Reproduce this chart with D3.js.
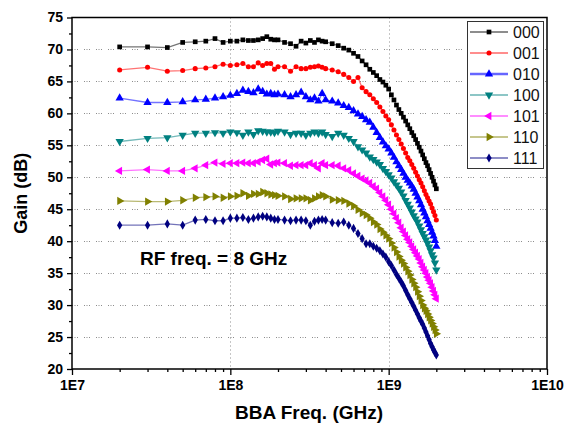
<!DOCTYPE html>
<html lang="en">
<head>
<meta charset="UTF-8">
<title>Gain vs BBA freq</title>
<script src="https://cdn.jsdelivr.net/npm/d3@7/dist/d3.min.js"></script>
<style>
  body { margin: 0; background: #fff; }
  svg { font-family: "Liberation Sans", Arial, sans-serif; }
</style>
</head>
<body>
<div id="chart"></div>
<script>

var w = 575;
var h = 430;

// sample frequencies (MHz)
var freqs = [20, 30, 40, 50, 60, 70, 80, 90, 100,
    110, 120, 130, 140, 150, 160, 170, 180, 190, 200,
    220, 240, 260, 280, 300, 320, 340, 360, 380, 400,
    440, 480, 520, 560, 600, 640, 680, 720, 760, 800,
    840, 880, 920, 960, 1000, 1040, 1080, 1120, 1160, 1200,
    1240, 1280, 1320, 1360, 1400, 1440, 1480, 1520, 1560, 1600,
    1640, 1680, 1720, 1760, 1800, 1840, 1880, 1920, 1960, 2000];

var names = ["000", "001", "010", "100", "101", "110", "111"];
var colors = ["#000000", "#ff0000", "#0000ff", "#008080", "#ff00ff", "#808000", "#000080"];

// gain (dB) of each state
var g000 = [70.4, 70.4, 70.3, 71.1, 71.2, 71.3, 71.7, 71.1, 71.3,
    71.3, 71.5, 71.4, 71.4, 71.5, 71.7, 72.0, 71.6, 71.5, 71.5,
    71.1, 70.9, 70.5, 71.3, 71.0, 71.4, 71.1, 71.5, 71.3, 71.2,
    70.9, 70.6, 70.2, 69.9, 69.4, 68.9, 68.2, 67.6, 66.9, 66.4,
    65.9, 65.3, 64.9, 64.4, 63.8, 62.9, 62.1, 61.3, 60.6, 60.0,
    59.4, 58.8, 58.2, 57.6, 57.0, 56.5, 55.9, 55.3, 54.7, 54.1,
    53.5, 52.9, 52.3, 51.8, 51.2, 50.6, 50.0, 49.4, 48.8, 48.2];

var g001 = [66.8, 67.2, 66.6, 66.7, 67.0, 67.1, 67.3, 67.7, 67.5,
    67.6, 67.8, 67.3, 67.3, 67.9, 67.5, 67.8, 67.8, 66.9, 67.3,
    67.3, 66.6, 67.3, 67.0, 67.0, 67.2, 67.3, 67.4, 67.2, 67.0,
    66.8, 66.5, 66.1, 65.6, 65.0, 65.6, 64.0, 63.4, 62.9, 62.3,
    61.7, 61.0, 60.3, 59.6, 59.0, 58.2, 57.4, 56.6, 55.9, 55.2,
    54.5, 53.8, 53.1, 52.6, 52.0, 51.4, 50.8, 50.2, 49.6, 49.1,
    48.5, 47.9, 47.3, 46.8, 46.3, 45.8, 45.2, 44.6, 44.0, 43.3];

var g010 = [62.4, 61.7, 61.7, 61.8, 62.1, 62.2, 62.4, 62.6, 62.8,
    63.1, 63.6, 63.4, 63.2, 63.8, 63.4, 63.0, 63.1, 62.9, 63.0,
    62.9, 62.6, 62.9, 63.3, 62.6, 62.1, 62.4, 61.9, 63.1, 62.1,
    61.9, 61.6, 61.2, 60.9, 60.4, 59.9, 59.5, 59.0, 58.6, 57.8,
    57.0, 56.2, 55.5, 54.9, 54.4, 53.8, 53.1, 52.4, 51.8, 51.2,
    50.6, 50.0, 49.5, 49.1, 48.6, 48.1, 47.5, 46.9, 46.3, 45.7,
    45.0, 44.4, 43.8, 43.2, 42.6, 42.0, 41.4, 40.8, 40.1, 39.2];

var g100 = [55.6, 56.1, 56.2, 56.6, 56.9, 56.9, 57.0, 56.9, 57.1,
    57.0, 56.6, 57.1, 56.7, 57.3, 57.2, 57.1, 57.1, 57.0, 57.2,
    57.1, 56.7, 56.9, 56.9, 56.6, 56.9, 57.1, 56.9, 57.1, 56.7,
    56.4, 56.9, 56.6, 56.1, 55.6, 54.8, 54.3, 53.8, 53.2, 52.8,
    52.4, 52.0, 51.4, 50.9, 50.4, 49.9, 49.3, 48.8, 48.3, 47.7,
    47.1, 46.4, 45.8, 45.2, 44.6, 44.0, 43.5, 43.0, 42.4, 41.8,
    41.2, 40.7, 40.2, 39.7, 39.1, 38.5, 37.9, 37.4, 36.6, 35.5];

var g101 = [51.0, 51.2, 51.0, 51.0, 51.4, 51.9, 52.3, 52.1, 52.2,
    52.2, 52.3, 52.2, 52.2, 52.4, 52.7, 52.9, 52.0, 52.2, 52.3,
    52.2, 51.8, 51.9, 51.9, 51.9, 52.2, 51.9, 51.4, 52.2, 51.9,
    51.9, 51.8, 51.4, 51.1, 50.6, 50.2, 49.8, 49.5, 49.1, 48.6,
    48.2, 47.6, 47.0, 46.4, 45.7, 45.0, 44.3, 43.6, 42.9, 42.1,
    41.5, 40.9, 40.3, 39.8, 39.2, 38.7, 38.2, 37.7, 37.2, 36.6,
    36.0, 35.5, 35.0, 34.4, 33.9, 33.4, 32.8, 32.2, 31.6, 31.0];

var g110 = [46.3, 46.2, 46.2, 46.4, 46.8, 46.9, 47.0, 46.8, 47.0,
    47.1, 47.5, 47.1, 47.4, 47.4, 47.7, 47.5, 47.3, 47.2, 47.1,
    47.0, 46.6, 46.7, 46.7, 46.7, 46.4, 46.7, 47.0, 47.2, 47.0,
    46.5, 46.4, 46.3, 45.9, 45.5, 44.9, 44.4, 44.1, 43.6, 43.0,
    42.6, 41.9, 41.4, 40.9, 40.4, 39.7, 39.0, 38.3, 37.6, 37.0,
    36.5, 35.9, 35.3, 34.7, 34.0, 33.4, 32.8, 32.1, 31.4, 30.7,
    30.0, 29.5, 29.1, 28.6, 28.1, 27.6, 27.1, 26.6, 26.1, 25.5];

var g111 = [42.5, 42.5, 42.7, 42.5, 43.3, 43.4, 43.2, 43.2, 43.6,
    43.6, 43.7, 43.4, 43.6, 43.8, 43.9, 43.8, 43.6, 43.4, 43.4,
    43.3, 43.2, 43.3, 43.3, 43.2, 42.5, 43.1, 43.3, 43.4, 43.3,
    42.9, 42.8, 43.0, 42.5, 42.0, 41.2, 40.4, 39.6, 39.6, 39.2,
    38.9, 38.5, 38.0, 37.5, 36.8, 36.2, 35.5, 34.8, 34.2, 33.6,
    33.0, 32.3, 31.6, 31.0, 30.4, 29.8, 29.2, 28.6, 28.0, 27.5,
    27.0, 26.4, 25.8, 25.2, 24.6, 24.0, 23.5, 23.0, 22.6, 22.2];

var yTicks = [20, 25, 30, 35, 40, 45, 50, 55, 60, 65, 70, 75];
var xTicks = [1e7, 1e8, 1e9, 1e10];
var xTickLabels = ["1E7", "1E8", "1E9", "1E10"];

var series = [g000, g001, g010, g100, g101, g110, g111];

var svg = d3.select("#chart")
    .append("svg")
    .attr("width", w)
    .attr("height", h);

var pLeft = 72, pRight = 547, pTop = 17.5, pBottom = 369;

var x = d3.scaleLog()
    .domain([1e7, 1e10])
    .range([pLeft, pRight]);

var y = d3.scaleLinear()
    .domain([20, 75])
    .range([pBottom, pTop]);

// dotted grid
var grid = svg.append("g")
    .attr("stroke", "#8c8c8c")
    .attr("stroke-width", 1)
    .attr("stroke-dasharray", "1,1.5,1,1.5,1,6");

grid.selectAll("line.hg")
    .data(yTicks.slice(1, -1))
    .enter().append("line")
    .attr("class", "hg")
    .attr("x1", pLeft).attr("x2", pRight)
    .attr("y1", function(d) { return Math.round(y(d)) + 0.5; })
    .attr("y2", function(d) { return Math.round(y(d)) + 0.5; });

grid.selectAll("line.vg")
    .data([1e8, 1e9])
    .enter().append("line")
    .attr("class", "vg")
    .attr("stroke-dasharray", "1,3")
    .attr("y1", pTop).attr("y2", pBottom)
    .attr("x1", function(d) { return Math.round(x(d)) + 0.5; })
    .attr("x2", function(d) { return Math.round(x(d)) + 0.5; });

// symbols
var triangle = d3.symbol().type(d3.symbolTriangle).size(30);
var markers = [
    { path: d3.symbol().type(d3.symbolSquare).size(22)(), rot: 0 },
    { path: d3.symbol().type(d3.symbolCircle).size(20)(), rot: 0 },
    { path: triangle(), rot: 0 },
    { path: triangle(), rot: 180 },
    { path: triangle(), rot: -90 },
    { path: triangle(), rot: 90 },
    { path: d3.symbol().type(d3.symbolDiamond).size(24)(), rot: 0 }
];

var line = d3.line()
    .x(function(d) { return x(d[0] * 1e6); })
    .y(function(d) { return y(d[1]); });

var plot = svg.append("g");

series.forEach(function(vals, i) {
    var pts = freqs.map(function(f, j) { return [f, vals[j]]; });
    var g = plot.append("g");
    g.append("path")
        .datum(pts)
        .attr("d", line)
        .attr("fill", "none")
        .attr("stroke", colors[i])
        .attr("stroke-opacity", 0.55)
        .attr("stroke-width", 1.3);
    g.selectAll("path.m")
        .data(pts)
        .enter().append("path")
        .attr("class", "m")
        .attr("d", markers[i].path)
        .attr("fill", colors[i])
        .attr("transform", function(d) {
            return "translate(" + x(d[0] * 1e6) + "," + y(d[1]) + ") rotate(" + markers[i].rot + ")";
        });
});

// axes
var yAxis = d3.axisLeft(y)
    .tickValues(yTicks)
    .tickSize(5)
    .tickPadding(4)
    .tickFormat(d3.format("d"));

var yMinor = d3.axisLeft(y)
    .tickValues(yTicks.slice(0, -1).map(function(d) { return d + 2.5; }))
    .tickSize(3)
    .tickFormat("");

var minorX = [];
[1e7, 1e8, 1e9].forEach(function(dec) {
    for (var k = 2; k <= 9; k++) minorX.push(dec * k);
});

var xAxis = d3.axisBottom(x)
    .tickValues(xTicks)
    .tickSize(6)
    .tickPadding(5)
    .tickFormat(function(d, i) { return xTickLabels[i]; });

var xMinor = d3.axisBottom(x)
    .tickValues(minorX)
    .tickSize(3)
    .tickFormat("");

function styleAxis(g) {
    g.select(".domain").remove();
    g.selectAll("line").attr("stroke", "#000").attr("stroke-width", 1.3);
    g.selectAll("text")
        .attr("fill", "#000")
        .style("font-size", "14px")
        .style("font-weight", "bold");
}

svg.append("g").attr("transform", "translate(" + pLeft + ",0)").call(yAxis).call(styleAxis);
svg.append("g").attr("transform", "translate(" + pLeft + ",0)").call(yMinor).call(styleAxis);
svg.append("g").attr("transform", "translate(0," + pBottom + ")").call(xAxis).call(styleAxis);
svg.append("g").attr("transform", "translate(0," + pBottom + ")").call(xMinor).call(styleAxis);

// frame
svg.append("rect")
    .attr("x", pLeft).attr("y", pTop)
    .attr("width", pRight - pLeft).attr("height", pBottom - pTop)
    .attr("fill", "none")
    .attr("stroke", "#000")
    .attr("stroke-width", 1.5);

// labels
svg.append("text")
    .attr("x", (pLeft + pRight) / 2 - 0.5)
    .attr("y", 419)
    .attr("text-anchor", "middle")
    .style("font-size", "19px")
    .style("font-weight", "bold")
    .text("BBA Freq. (GHz)");

svg.append("text")
    .attr("transform", "translate(27," + (pTop + pBottom) / 2 + ") rotate(-90)")
    .attr("text-anchor", "middle")
    .style("font-size", "18px")
    .style("font-weight", "bold")
    .text("Gain (dB)");

svg.append("text")
    .attr("x", 140)
    .attr("y", 265)
    .style("font-size", "19px")
    .style("font-weight", "bold")
    .text("RF freq. = 8 GHz");

// legend
var legend = svg.append("g");
legend.append("rect")
    .attr("x", 467.5).attr("y", 21.5)
    .attr("width", 76).attr("height", 147)
    .attr("fill", "#fff")
    .attr("stroke", "#333")
    .attr("stroke-width", 1);

names.forEach(function(n, i) {
    var ly = 32 + i * 21;
    var item = legend.append("g");
    item.append("line")
        .attr("x1", 470).attr("x2", 508)
        .attr("y1", ly).attr("y2", ly)
        .attr("stroke", colors[i])
        .attr("stroke-opacity", 0.6)
        .attr("stroke-width", i === 2 ? 2.5 : 1.5);
    item.append("path")
        .attr("d", markers[i].path)
        .attr("fill", colors[i])
        .attr("transform", "translate(489," + ly + ") rotate(" + markers[i].rot + ")");
    item.append("text")
        .attr("x", 513)
        .attr("y", ly + 6)
        .style("font-size", "16px")
        .attr("fill", "#111")
        .text(n);
});

</script>
</body>
</html>
